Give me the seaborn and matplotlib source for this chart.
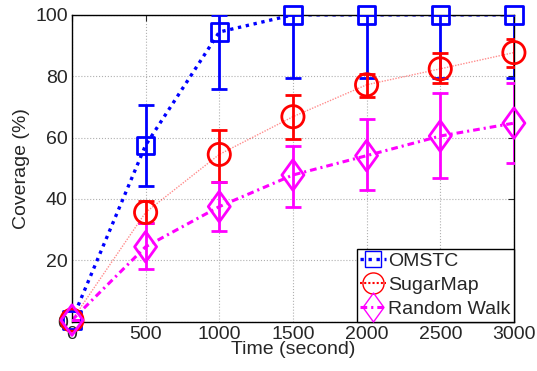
import numpy as np
import pandas as pd
import matplotlib
matplotlib.use("Agg")
import matplotlib.pyplot as plt
import seaborn as sns
from matplotlib.path import Path

times = [0, 500, 1000, 1500, 2000, 2500, 3000]
series_names = ["OMSTC", "SugarMap", "Random Walk"]

omstc_mean = [0.5, 57.5, 94.4, 100, 100, 100, 100]
omstc_low = [0.5, 44.2, 75.8, 79.5, 79.5, 79.5, 79.5]
omstc_high = [0.5, 70.5, 100, 100, 100, 100, 100]

sugar_mean = [0.5, 35.6, 54.5, 66.8, 77.2, 82.4, 87.7]
sugar_low = [0.5, 32.0, 45.6, 59.4, 73.3, 77.7, 83.1]
sugar_high = [0.5, 39.2, 62.5, 73.9, 80.7, 87.5, 92.0]

rw_mean = [0.5, 24.4, 37.5, 47.8, 54.1, 60.5, 64.7]
rw_low = [0.5, 17.0, 29.5, 37.5, 42.9, 46.9, 51.8]
rw_high = [0.5, 32.0, 45.6, 57.3, 66.0, 74.4, 77.7]

xticks = [0, 500, 1000, 1500, 2000, 2500, 3000]
yticks = [0, 20, 40, 60, 80, 100]

df = pd.concat([
    pd.DataFrame({"time": times, "cov": m, "lo": lo, "hi": hi, "series": n})
    for n, m, lo, hi in [
        ("OMSTC", omstc_mean, omstc_low, omstc_high),
        ("SugarMap", sugar_mean, sugar_low, sugar_high),
        ("Random Walk", rw_mean, rw_low, rw_high),
    ]
])

sns.set_style("white")
plt.rcParams["font.family"] = ["Liberation Sans", "DejaVu Sans"]

diamond = Path([(0, -1), (0.72, 0), (0, 1), (-0.72, 0), (0, -1)],
               [Path.MOVETO, Path.LINETO, Path.LINETO, Path.LINETO, Path.CLOSEPOLY])

styles = {
    "OMSTC": dict(color="#0000ff", ls=(0, (1, 1.4)), lw=2.4, marker="s", ms=12.5, lalpha=1.0),
    "SugarMap": dict(color="#ff0000", ls=(0, (1, 1)), lw=1.0, marker="o", ms=16, lalpha=0.45),
    "Random Walk": dict(color="#ff00ff", ls=(0, (2.2, 1.3, 0.7, 1.3)), lw=2.2,
                        marker=diamond, ms=22, lalpha=1.0),
}

FS = 14

fig = plt.figure(figsize=(5.37, 3.71), dpi=100)
ax = fig.add_axes([0.134, 0.133, 0.823, 0.827])

handles = []
for name in series_names:
    st = styles[name]
    d = df[df["series"] == name]
    sns.lineplot(data=d, x="time", y="cov", ax=ax, color=st["color"], linestyle=st["ls"],
                 linewidth=st["lw"], alpha=st["lalpha"], legend=False, zorder=2)
    yerr = np.vstack([d["cov"] - d["lo"], d["hi"] - d["cov"]])
    ax.errorbar(d["time"], d["cov"], yerr=yerr, fmt="none", ecolor=st["color"],
                elinewidth=2.0, capsize=6, capthick=2.0, zorder=3)
    sns.scatterplot(data=d, x="time", y="cov", ax=ax, marker=st["marker"], s=st["ms"] ** 2,
                    facecolor="none", edgecolor=st["color"], linewidth=2.0, legend=False,
                    zorder=4, clip_on=False)
    h = plt.Line2D([], [], color=st["color"], linestyle=st["ls"], linewidth=max(st["lw"], 1.5),
                   marker=st["marker"], markersize=st["ms"] * 0.95, markerfacecolor="none",
                   markeredgecolor=st["color"], markeredgewidth=1.0)
    handles.append(h)

ax.set_xlim(0, 3000)
ax.set_ylim(0, 100)
ax.set_xticks(xticks)
ax.set_yticks(yticks)
ax.grid(True, color="#b0b0b0", linestyle=":", linewidth=0.8)
ax.set_axisbelow(True)
for s in ax.spines.values():
    s.set_color("black")
    s.set_linewidth(1.0)
ax.tick_params(direction="in", length=4, width=0.8, top=True, right=True,
               labelsize=FS, pad=3)
ax.set_xlabel("Time (second)", fontsize=FS, labelpad=-1)
ax.set_ylabel("Coverage (%)", fontsize=FS, labelpad=4)

leg = ax.legend(handles, series_names, loc="lower right", fontsize=FS, frameon=True,
                fancybox=False, framealpha=1, edgecolor="black", borderaxespad=0,
                handlelength=1.3, handletextpad=0.1, borderpad=0.2, labelspacing=0.32)
leg.get_frame().set_linewidth(1.0)
leg.set_zorder(10)

fig.savefig("out.png", dpi=100)
